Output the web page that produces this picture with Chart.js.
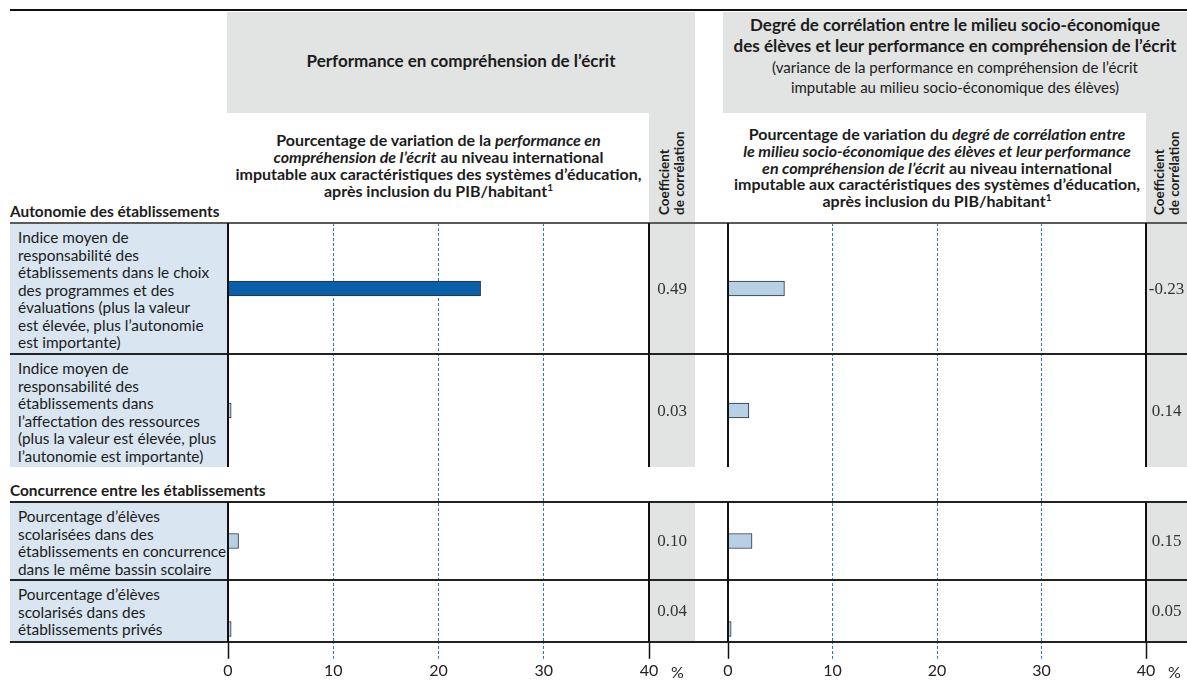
<!DOCTYPE html>
<html lang="fr">
<head>
<meta charset="utf-8">
<script src="https://cdn.jsdelivr.net/npm/chart.js@4.4.1/dist/chart.umd.min.js"></script>
<style>
  body { margin: 0; background: #fff; }
  #fig { position: relative; width: 1187px; height: 682px; overflow: hidden; font-family: Lato, "Open Sans", sans-serif; color: #1c1c1c; }
  #fig div, #fig canvas { position: absolute; }
  .grey { background: #e2e3e3; }
  .hline { left: 10px; width: 1177px; height: 1.6px; background: #222; }
  .vline { width: 1.5px; background: #111; }
  .rowcell { left: 10px; width: 218px; background: #d9e5f0; font-size: 15.4px; line-height: 17.5px; padding: 6px 0 0 8px; box-sizing: border-box; white-space: nowrap; }
  .group { left: 10px; font-weight: bold; font-size: 15.4px; line-height: 18px; white-space: nowrap; }
  .coef { font-family: "Liberation Serif", serif; font-size: 17px; line-height: 20px; text-align: center; color: #333; }
  .coefhdr { writing-mode: vertical-rl; transform: rotate(180deg); font-weight: bold; font-size: 13.5px; line-height: 15px; white-space: nowrap; }
  .sub { display: flex; align-items: center; justify-content: center; text-align: center; font-weight: bold; font-size: 16px; line-height: 16.8px; white-space: nowrap; }
  .sub sup, .ttl sup { font-size: 10px; line-height: 0; }
  .pct { font-size: 16px; line-height: 20px; color: #222; }
</style>
</head>
<body>
<div id="fig">
  <div class="hline" style="top:9px; height:2px; background:#111;"></div>

  <div class="grey" style="left:227px; top:12px; width:468px; height:101px; display:flex; align-items:center; justify-content:center; font-weight:bold; font-size:17px; padding-bottom:4px; box-sizing:border-box;">Performance en compréhension de l’écrit</div>
  <div class="grey" style="left:723px; top:12px; width:464px; height:101px; text-align:center; white-space:nowrap;">
    <div style="position:static; padding-top:2px; font-weight:bold; font-size:17px; line-height:21px;">Degré de corrélation entre le milieu socio-économique<br>des élèves et leur performance en compréhension de l’écrit</div>
    <div style="position:static; font-size:15px; line-height:20px; margin-top:1px;">(variance de la performance en compréhension de l’écrit<br>imputable au milieu socio-économique des élèves)</div>
  </div>

  <div class="sub" style="left:228px; top:113px; width:421px; height:106px;"><span>Pourcentage de variation de la <i>performance en<br>compréhension de l’écrit</i> au niveau international<br>imputable aux caractéristiques des systèmes d’éducation,<br>après inclusion du PIB/habitant<sup>1</sup></span></div>
  <div class="sub" style="left:728px; top:113px; width:418px; height:110px;"><span>Pourcentage de variation du <i>degré de corrélation entre<br>le milieu socio-économique des élèves et leur performance<br>en compréhension de l’écrit</i> au niveau international<br>imputable aux caractéristiques des systèmes d’éducation,<br>après inclusion du PIB/habitant<sup>1</sup></span></div>
</div>

<script>
// données
const groupNames = ['Autonomie des établissements', 'Concurrence entre les établissements'];
const categories = [
  ['Indice moyen de', 'responsabilité des', 'établissements dans le choix', 'des programmes et des', 'évaluations (plus la valeur', 'est élevée, plus l’autonomie', 'est importante)'],
  ['Indice moyen de', 'responsabilité des', 'établissements dans', 'l’affectation des ressources', '(plus la valeur est élevée, plus', 'l’autonomie est importante)'],
  ['Pourcentage d’élèves', 'scolarisées dans des', 'établissements en concurrence', 'dans le même bassin scolaire'],
  ['Pourcentage d’élèves', 'scolarisés dans des', 'établissements privés']
];
const categoryGroup = [0, 0, 1, 1];
const readingVariation = [24.0, 0.3, 1.0, 0.3];
const readingCoef = [0.49, 0.03, 0.10, 0.04];
const readingSignificant = [true, false, false, false];
const equityVariation = [5.4, 2.0, 2.3, 0.3];
const equityCoef = [-0.23, 0.14, 0.15, 0.05];
const equitySignificant = [false, false, false, false];
const xTicks = [0, 10, 20, 30, 40];

// mise en page
const fig = document.getElementById('fig');
const rows = [
  { top: 223, bottom: 354, barPad: 0 },
  { top: 354, bottom: 467, barPad: 0 },
  { top: 502, bottom: 580, barPad: 0 },
  { top: 580, bottom: 642, barPad: 36 }
];
const panels = [
  { x0: 228, x40: 649, colRight: 695, values: readingVariation, coef: readingCoef, sig: readingSignificant },
  { x0: 728, x40: 1146, colRight: 1187, values: equityVariation, coef: equityCoef, sig: equitySignificant }
];
const darkBlue = '#0a5fa8';
const lightBlue = '#b7d0e6';
const gridBlue = '#2f77c2';

function add(cls, style, html) {
  const d = document.createElement('div');
  if (cls) d.className = cls;
  d.style.cssText = style;
  if (html) d.innerHTML = html;
  fig.appendChild(d);
  return d;
}

function canvasAt(left, top, w, h) {
  const c = document.createElement('canvas');
  c.width = w; c.height = h;
  c.style.left = left + 'px'; c.style.top = top + 'px';
  c.style.width = w + 'px'; c.style.height = h + 'px';
  fig.appendChild(c);
  return c;
}

// colonnes grises des coefficients
panels.forEach(p => {
  const w = p.colRight - p.x40;
  add('grey', `left:${p.x40}px; top:113px; width:${w}px; height:${rows[1].bottom - 113}px;`);
  add('grey', `left:${p.x40}px; top:${rows[2].top}px; width:${w}px; height:${rows[3].bottom - rows[2].top}px;`);
  add('coefhdr', `left:${p.x40 + (w - 30) / 2}px; top:113px; width:30px; height:102px;`, 'Coefficient<br>de corrélation');
});

// cellules des libellés
categories.forEach((lines, i) => {
  const r = rows[i];
  add('rowcell', `top:${r.top}px; height:${r.bottom - r.top}px;`, lines.join('<br>'));
  if (i === 0 || categoryGroup[i] !== categoryGroup[i - 1]) {
    add('group', `top:${r.top - 21}px;`, groupNames[categoryGroup[i]]);
  }
});

// axes et quadrillage
panels.forEach(p => {
  const pad = 24;
  const c = canvasAt(p.x0 - pad, 223, p.x40 - p.x0 + 2 * pad, 459);
  const edge = ctx => ctx.tick && (ctx.tick.value === xTicks[0] || ctx.tick.value === xTicks[xTicks.length - 1]);
  new Chart(c, {
    type: 'bar',
    data: { labels: [], datasets: [] },
    options: {
      responsive: false,
      animation: false,
      indexAxis: 'y',
      layout: { padding: { left: pad, right: pad, top: 0, bottom: 0 } },
      plugins: { legend: { display: false }, tooltip: { enabled: false } },
      scales: {
        y: { display: false },
        x: {
          type: 'linear',
          min: xTicks[0],
          max: xTicks[xTicks.length - 1],
          afterBuildTicks: axis => { axis.ticks = xTicks.map(v => ({ value: v })); },
          ticks: { color: '#222', font: { family: 'Lato', size: 16 }, padding: 2 },
          grid: {
            color: ctx => edge(ctx) ? 'rgba(0,0,0,0)' : gridBlue,
            lineWidth: 1,
            tickLength: 18,
            tickColor: ctx => edge(ctx) ? '#111' : gridBlue,
            tickWidth: ctx => edge(ctx) ? 1.5 : 1,
            tickBorderDash: ctx => edge(ctx) ? [] : [3, 2]
          },
          border: { display: false, dash: [3, 2] }
        }
      }
    }
  });
});

// barres, une par ligne
panels.forEach(p => {
  p.values.forEach((v, i) => {
    const r = rows[i];
    const c = canvasAt(p.x0, r.top, p.x40 - p.x0, r.bottom - r.top);
    new Chart(c, {
      type: 'bar',
      data: {
        labels: [categories[i].join(' ')],
        datasets: [{
          data: [v],
          backgroundColor: p.sig[i] ? darkBlue : lightBlue,
          borderColor: '#2a2f35',
          borderWidth: 1,
          borderSkipped: false,
          barThickness: 15
        }]
      },
      options: {
        responsive: false,
        animation: false,
        indexAxis: 'y',
        layout: { padding: { top: r.barPad } },
        plugins: { legend: { display: false }, tooltip: { enabled: false } },
        scales: {
          x: { display: false, min: xTicks[0], max: xTicks[xTicks.length - 1] },
          y: { display: false }
        }
      }
    });
    add('coef', `left:${p.x40}px; width:${p.colRight - p.x40}px; top:${(r.top + r.bottom) / 2 - 10}px;`, p.coef[i].toFixed(2));
  });
  add('pct', `left:${p.x40 + 22}px; top:662px;`, '%');
});

// traits
add('hline', 'top:222px; height:2px; background:#5a5a5a;');
[rows[0].bottom, rows[2].top, rows[3].top, rows[3].bottom].forEach(y => add('hline', `top:${y - 0.8}px;`));
panels.forEach(p => {
  [p.x0, p.x40].forEach(x => {
    add('vline', `left:${x - 0.75}px; top:223px; height:${rows[1].bottom - 223}px;`);
    add('vline', `left:${x - 0.75}px; top:${rows[2].top}px; height:${rows[3].bottom - rows[2].top}px;`);
  });
});
</script>
</body>
</html>
